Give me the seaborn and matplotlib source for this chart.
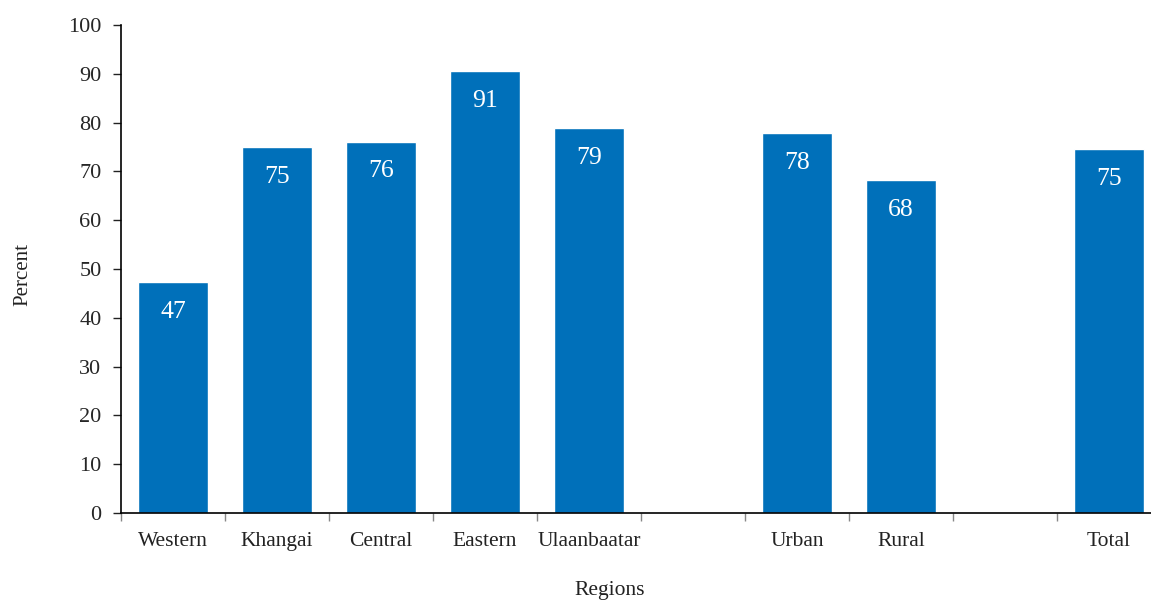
import matplotlib
matplotlib.use("Agg")
import matplotlib.pyplot as plt
import seaborn as sns
import pandas as pd
from matplotlib.ticker import FixedLocator

categories = ["Western", "Khangai", "Central", "Eastern", "Ulaanbaatar", "Urban", "Rural", "Total"]
values = [47.3, 74.9, 76.1, 90.5, 78.8, 77.9, 68.3, 74.5]
labels = ["47", "75", "76", "91", "79", "78", "68", "75"]
slot_order = ["Western", "Khangai", "Central", "Eastern", "Ulaanbaatar", "gap1", "Urban", "Rural", "gap2", "Total"]
y_ticks = [0, 10, 20, 30, 40, 50, 60, 70, 80, 90, 100]

sns.set_theme(style="white")
plt.rcParams["font.family"] = ["Liberation Serif", "DejaVu Serif"]

df = pd.DataFrame({"Region": categories, "Percent": values})

fig = plt.figure(figsize=(11.51, 6.0), dpi=100)
ax = fig.add_axes([121/1151, 1-513/600, 1040/1151, 488/600])

sns.barplot(data=df, x="Region", y="Percent", order=slot_order, color="#0070BA",
            saturation=1, width=0.67, ax=ax, errorbar=None)

for i, cat in enumerate(slot_order):
    if cat in categories:
        k = categories.index(cat)
        ax.annotate(labels[k], xy=(i, values[k]), xytext=(0, -21.5), textcoords="offset points",
                    ha="center", va="center", color="white", fontsize=18.5)

ax.set_xlim(-0.5, 9.5)
ax.set_ylim(0, 100)
ax.set_yticks(y_ticks)
ax.set_xticks(range(len(slot_order)))
ax.set_xticklabels([c if c in categories else "" for c in slot_order])
ax.xaxis.set_minor_locator(FixedLocator([i - 0.5 for i in range(len(slot_order) + 1)]))
ax.tick_params(axis="x", which="major", length=0, labelsize=15.5, pad=14, colors="#222222")
ax.tick_params(axis="x", which="minor", length=6, width=1, color="#888888", direction="out", bottom=True)
ax.tick_params(axis="y", length=6, width=1, color="#222222", labelsize=16, pad=8, left=True, direction="out")
for s in ["top", "right"]:
    ax.spines[s].set_visible(False)
for s in ["left", "bottom"]:
    ax.spines[s].set_color("black")
    ax.spines[s].set_linewidth(1.2)

ax.set_xlabel("Regions", fontsize=15.5, color="#222222")
ax.xaxis.set_label_coords((610 - 121) / 1040, -(590 - 513) / 488)
ax.xaxis.label.set_va("center")
ax.set_ylabel("Percent", fontsize=15, color="#222222")
ax.yaxis.set_label_coords(-(121 - 23) / 1040, (513 - 275) / 488)
ax.yaxis.label.set_va("center")
ax.grid(False)

fig.savefig("out.png", dpi=100)
